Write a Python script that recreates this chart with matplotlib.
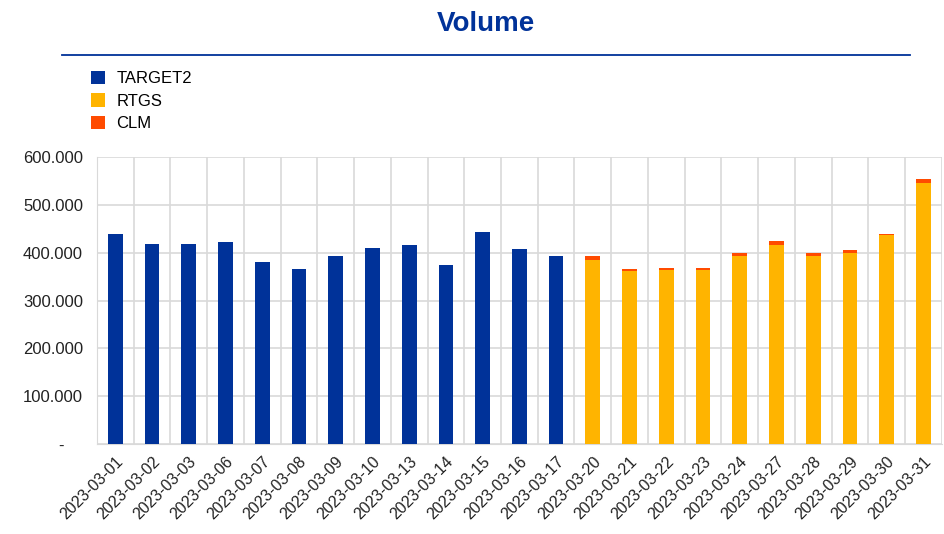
import matplotlib.pyplot as plt
import numpy as np
from matplotlib.ticker import FuncFormatter, MultipleLocator

plt.rcParams['font.family'] = ['Liberation Sans', 'DejaVu Sans']

# --- veriler ---
dates = ["2023-03-01", "2023-03-02", "2023-03-03", "2023-03-06", "2023-03-07",
         "2023-03-08", "2023-03-09", "2023-03-10", "2023-03-13", "2023-03-14",
         "2023-03-15", "2023-03-16", "2023-03-17", "2023-03-20", "2023-03-21",
         "2023-03-22", "2023-03-23", "2023-03-24", "2023-03-27", "2023-03-28",
         "2023-03-29", "2023-03-30", "2023-03-31"]
target2 = [440000, 419000, 419000, 423000, 381000, 366000, 392000, 410000,
           415000, 374000, 444000, 408000, 392000,
           0, 0, 0, 0, 0, 0, 0, 0, 0, 0]
rtgs = [0] * 13 + [385000, 362000, 363000, 363000, 392000, 417000, 392000,
                   399000, 437000, 546000]
clm = [0] * 13 + [7000, 3000, 6000, 6000, 7000, 8000, 7000, 7000, 3000, 7000]

BLUE = "#003299"
YELLOW = "#FFB400"
ORANGE = "#FF4B00"
GRID = "#D9D9D9"

fig = plt.figure(figsize=(9.45, 5.34), dpi=100)
ax = fig.add_axes([0.1026, 0.1685, 0.894, 0.5375])

x = np.arange(len(dates))
w = 0.4
t2 = np.array(target2)
rt = np.array(rtgs)
cl = np.array(clm)

ax.bar(x, t2, width=w, color=BLUE, label="TARGET2", zorder=3)
ax.bar(x, rt, width=w, color=YELLOW, label="RTGS", zorder=3)
ax.bar(x, cl, width=w, bottom=rt, color=ORANGE, label="CLM", zorder=3)

ax.set_xlim(-0.5, len(dates) - 0.5)
ax.set_ylim(0, 600000)
ax.yaxis.set_major_locator(MultipleLocator(100000))


def fmt(v, pos):
    if v == 0:
        return "-    "
    return f"{int(v):,}".replace(",", ".")


ax.yaxis.set_major_formatter(FuncFormatter(fmt))
ax.set_xticks(x)
ax.set_xticklabels(dates, rotation=45, ha="right", rotation_mode="anchor",
                   fontsize=11.5, color="#222222")
ax.set_xticks(np.arange(-0.5, len(dates), 1), minor=True)
ax.tick_params(axis="x", which="both", length=0, pad=7)
ax.tick_params(axis="y", length=0, labelsize=12, labelcolor="#222222", pad=10)

ax.grid(axis="y", which="major", color=GRID, lw=1.2, zorder=0)
ax.grid(axis="x", which="minor", color=GRID, lw=1.2, zorder=0)
for s in ax.spines.values():
    s.set_visible(False)
ax.spines["left"].set_visible(True)
ax.spines["left"].set_color(GRID)
ax.spines["bottom"].set_visible(True)
ax.spines["bottom"].set_color(GRID)

# başlık ve çizgi
fig.text(0.514, 0.955, "Volume", ha="center", va="center", fontsize=20,
         fontweight="bold", color=BLUE)
fig.add_artist(plt.Line2D([0.066, 0.963], [0.897, 0.897], color=BLUE, lw=1.3))

fig.legend(loc="upper left", bbox_to_anchor=(0.08, 0.895), frameon=False,
           fontsize=12, handlelength=0.85, handleheight=0.85, labelspacing=0.42,
           handletextpad=0.7)

plt.savefig("out.png", dpi=100)
